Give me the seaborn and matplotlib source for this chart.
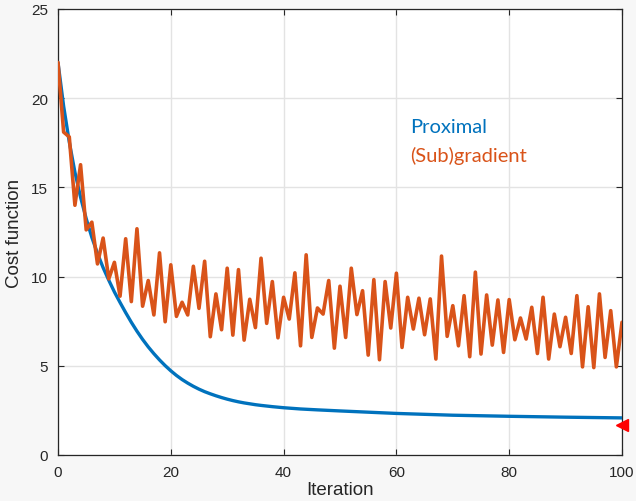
import numpy as np
import pandas as pd
import matplotlib
matplotlib.use("Agg")
import matplotlib.pyplot as plt
import seaborn as sns

# ---- data ----
subgrad_iter = list(range(0, 101))
subgrad_cost = [
    22.0, 18.1, 17.83, 14.0, 16.27, 12.62, 13.05, 10.71, 12.16, 9.87,
    10.8, 8.9, 12.12, 8.6, 12.68, 8.34, 9.78, 7.85, 11.33, 7.47,
    10.66, 7.77, 8.56, 7.85, 10.58, 8.22, 10.86, 6.63, 9.03, 7.02,
    10.47, 6.72, 10.39, 6.44, 8.73, 7.14, 11.03, 7.38, 9.72, 6.57,
    8.84, 7.62, 10.21, 6.12, 11.22, 6.59, 8.24, 7.9, 9.78, 5.99,
    9.46, 6.59, 10.47, 7.87, 9.21, 5.6, 9.83, 5.34, 9.72, 7.12,
    10.19, 6.03, 8.84, 7.06, 8.79, 6.74, 8.75, 5.38, 11.15, 6.65,
    8.37, 6.12, 8.93, 5.51, 10.25, 5.66, 8.97, 6.16, 8.69, 5.75,
    8.71, 6.46, 7.68, 6.5, 8.28, 5.69, 8.84, 5.38, 7.9, 6.07,
    7.72, 5.69, 8.93, 4.94, 8.31, 4.9, 9.03, 5.47, 8.09, 4.94,
    7.44,
]

prox_iter = list(range(0, 36)) + [36, 38, 40, 43, 46, 50, 55, 60, 65, 70,
                                  75, 80, 85, 90, 95, 100]
prox_cost = [22.0, 19.55, 17.55, 15.85, 14.45, 13.25, 12.2, 11.3, 10.5, 9.8,
             9.14, 8.55, 7.98, 7.44, 6.94, 6.48, 6.06, 5.68, 5.33, 5.01,
             4.72, 4.46, 4.23, 4.03, 3.85, 3.69, 3.55, 3.43, 3.32, 3.22,
             3.13, 3.05, 2.98, 2.92, 2.87, 2.82,
             2.78, 2.71, 2.65, 2.58, 2.53, 2.47, 2.40, 2.33, 2.28, 2.23,
             2.20, 2.17, 2.145, 2.12, 2.10, 2.08]

marker_x = [100]
marker_y = [1.67]

series_names = ["Proximal", "(Sub)gradient"]
x_ticks = [0, 20, 40, 60, 80, 100]
y_ticks = [0, 5, 10, 15, 20, 25]

BLUE = "#0072BD"
ORANGE = "#D95319"

sns.set_theme(style="whitegrid")
plt.rcParams["font.family"] = ["Liberation Sans", "DejaVu Sans"]

fig = plt.figure(figsize=(6.36, 5.02), dpi=100, facecolor="#f7f7f7")
ax = fig.add_axes([58 / 636, 1 - 456 / 502, 564 / 636, 446 / 502])
ax.set_facecolor("white")

df_prox = pd.DataFrame({"it": prox_iter, "cost": prox_cost})
df_sub = pd.DataFrame({"it": subgrad_iter, "cost": subgrad_cost})

sns.lineplot(data=df_prox, x="it", y="cost", ax=ax, color=BLUE, lw=2.4, zorder=3)
sns.lineplot(data=df_sub, x="it", y="cost", ax=ax, color=ORANGE, lw=2.6, zorder=4)
ax.plot(marker_x, marker_y, marker="<", color="red", markersize=9, ls="none",
        clip_on=False, zorder=5)

ax.set_xlim(0, 100)
ax.set_ylim(0, 25)
ax.set_xticks(x_ticks)
ax.set_yticks(y_ticks)
ax.grid(True, color="#e3e3e3", lw=1.0)
for s in ax.spines.values():
    s.set_visible(True)
    s.set_color("#262626")
    s.set_linewidth(0.9)
ax.tick_params(direction="in", length=4.5, width=0.8, color="#262626",
               labelsize=11, labelcolor="#262626", top=True, right=True,
               left=True, bottom=True)
ax.tick_params(axis="x", pad=7)
ax.tick_params(axis="y", pad=7)
ax.set_xlabel("Iteration", fontsize=13.5, color="#262626", labelpad=2)
ax.set_ylabel("Cost function", fontsize=13.5, color="#262626", labelpad=6)

ax.text(0.624, 0.724, series_names[0], transform=ax.transAxes, color=BLUE,
        fontsize=14.5, family=["Lato", "DejaVu Sans"], va="baseline")
ax.text(0.624, 0.659, series_names[1], transform=ax.transAxes, color=ORANGE,
        fontsize=14.5, family=["Lato", "DejaVu Sans"], va="baseline")

fig.savefig("out.png", dpi=100, facecolor=fig.get_facecolor())
